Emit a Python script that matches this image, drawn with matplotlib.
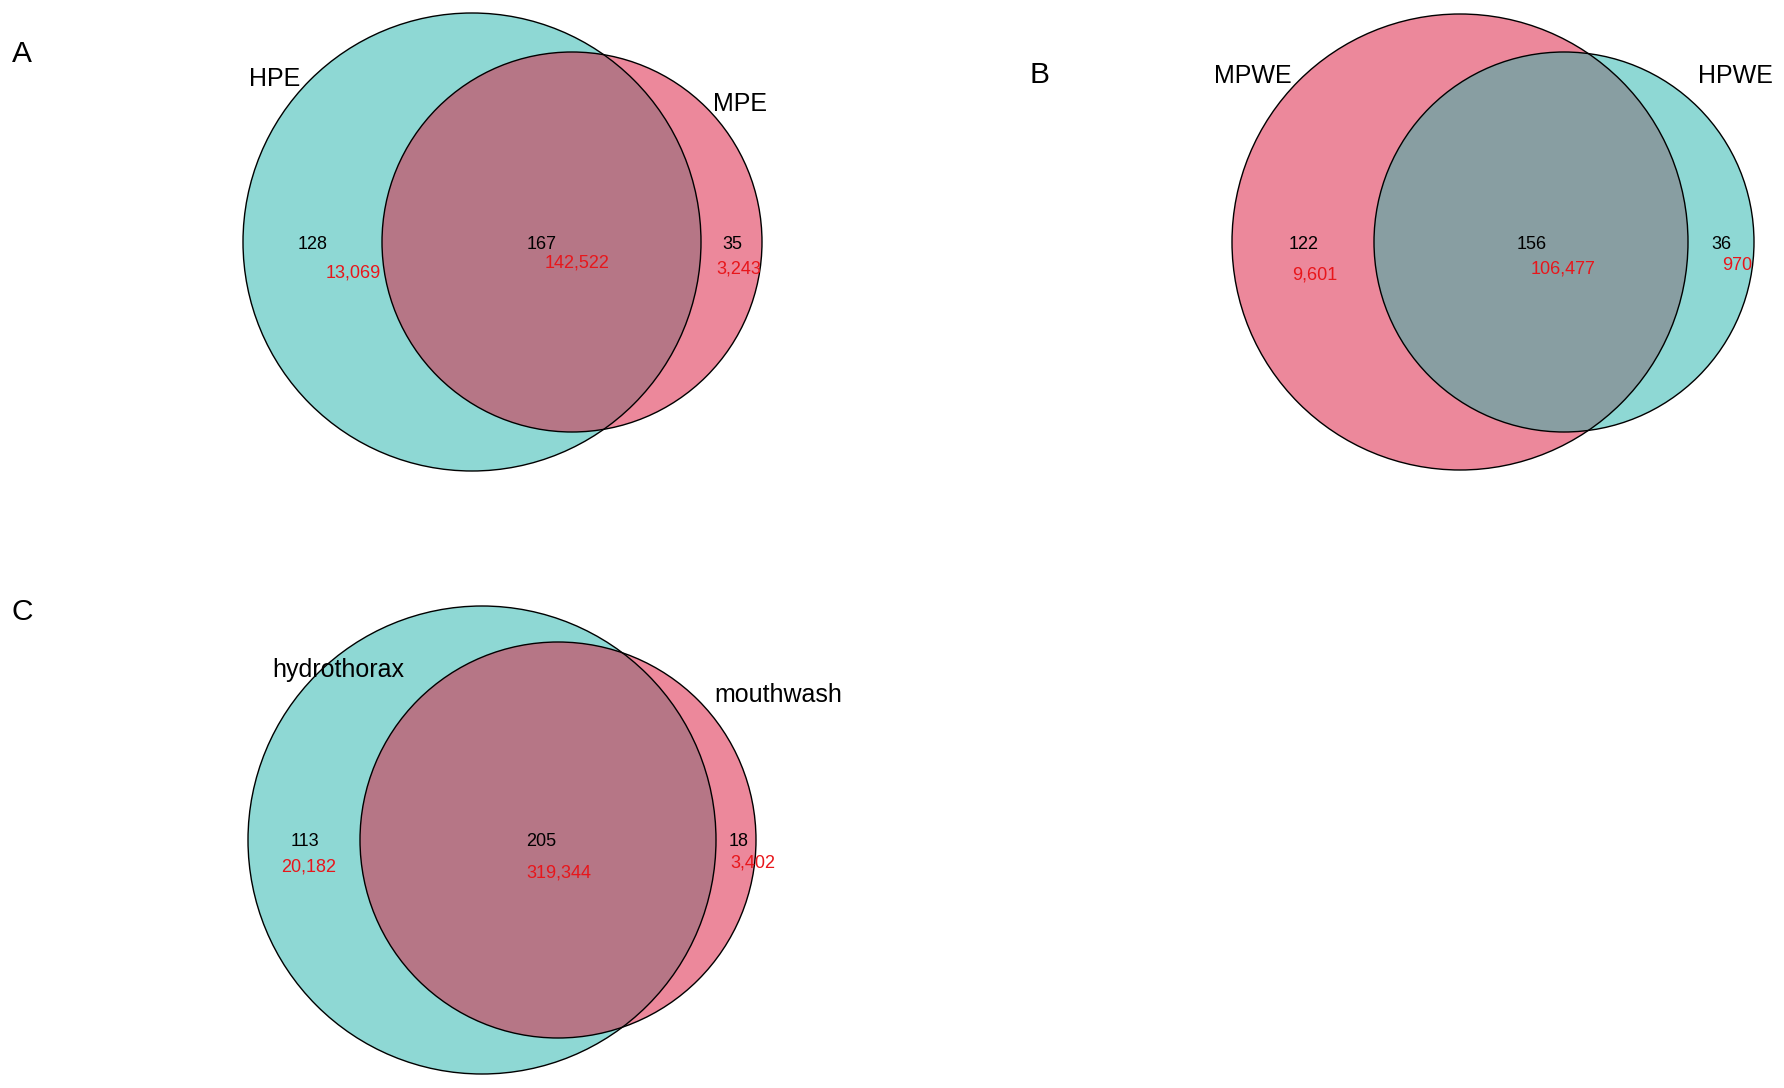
import matplotlib
matplotlib.use("Agg")
import matplotlib.pyplot as plt
from matplotlib.patches import Circle

plt.rcParams['font.family'] = ['Liberation Sans', 'DejaVu Sans']

# ---- data ----
panel_letters = ["A", "B", "C"]
left_names = ["HPE", "MPWE", "hydrothorax"]
right_names = ["MPE", "HPWE", "mouthwash"]
left_counts = [128, 122, 113]
overlap_counts = [167, 156, 205]
right_counts = [35, 36, 18]
left_reads = [13069, 9601, 20182]
overlap_reads = [142522, 106477, 319344]
right_reads = [3243, 970, 3402]

# ---- layout (pixel coordinates) ----
TEAL = "#8ED8D4"
PINK = "#EC889B"
layout = [
    dict(big=(472, 242, 229), small=(572, 242, 190), big_col=TEAL, small_col=PINK, ov_col="#B67686",
         letter=(22, 62), n1=(275, 86), n2=(740, 111),
         c1=(313, 249), r1=(353, 277), c12=(542, 249), r12=(577, 268), c2=(732, 249), r2=(739, 273)),
    dict(big=(1460, 242, 228), small=(1564, 242, 190), big_col=PINK, small_col=TEAL, ov_col="#889EA2",
         letter=(1039, 83), n1=(1253, 83), n2=(1735, 83),
         c1=(1304, 249), r1=(1315, 279), c12=(1532, 249), r12=(1563, 274), c2=(1721, 249), r2=(1737, 270)),
    dict(big=(482, 840, 234), small=(558, 840, 198), big_col=TEAL, small_col=PINK, ov_col="#B67686",
         letter=(22, 620), n1=(338, 677), n2=(778, 702),
         c1=(305, 846), r1=(309, 872), c12=(541, 846), r12=(559, 877), c2=(739, 846), r2=(753, 868)),
]

W, H = 1784, 1088
fig = plt.figure(figsize=(W / 100, H / 100), dpi=100)
ax = fig.add_axes([0, 0, 1, 1])
ax.set_xlim(0, W)
ax.set_ylim(H, 0)
ax.set_aspect('equal')
ax.axis('off')

RED = "#E8161B"
NUM_FS = 13
NAME_FS = 18
LET_FS = 21.5

for i, L in enumerate(layout):
    bx, by, br = L['big']
    sx, sy, sr = L['small']
    big = Circle((bx, by), br, facecolor=L['big_col'], edgecolor='none', zorder=1)
    small = Circle((sx, sy), sr, facecolor=L['small_col'], edgecolor='none', zorder=2)
    ax.add_patch(big)
    ax.add_patch(small)
    ov = Circle((sx, sy), sr, facecolor=L['ov_col'], edgecolor='none', zorder=3)
    ax.add_patch(ov)
    ov.set_clip_path(Circle((bx, by), br, transform=ax.transData))
    ax.add_patch(Circle((bx, by), br, facecolor='none', edgecolor='black', lw=1.0, zorder=4))
    ax.add_patch(Circle((sx, sy), sr, facecolor='none', edgecolor='black', lw=1.0, zorder=4))

    ax.text(*L['letter'], panel_letters[i], fontsize=LET_FS, ha='center', va='baseline', zorder=5)
    ax.text(*L['n1'], left_names[i], fontsize=NAME_FS, ha='center', va='baseline', zorder=5)
    ax.text(*L['n2'], right_names[i], fontsize=NAME_FS, ha='center', va='baseline', zorder=5)
    ax.text(*L['c1'], str(left_counts[i]), fontsize=NUM_FS, ha='center', va='baseline', zorder=5)
    ax.text(*L['c12'], str(overlap_counts[i]), fontsize=NUM_FS, ha='center', va='baseline', zorder=5)
    ax.text(*L['c2'], str(right_counts[i]), fontsize=NUM_FS, ha='center', va='baseline', zorder=5)
    ax.text(*L['r1'], f"{left_reads[i]:,}", fontsize=NUM_FS, color=RED, ha='center', va='baseline', zorder=5)
    ax.text(*L['r12'], f"{overlap_reads[i]:,}", fontsize=NUM_FS, color=RED, ha='center', va='baseline', zorder=5)
    ax.text(*L['r2'], f"{right_reads[i]:,}", fontsize=NUM_FS, color=RED, ha='center', va='baseline', zorder=5)

fig.savefig("out.png", dpi=100, facecolor='white')
